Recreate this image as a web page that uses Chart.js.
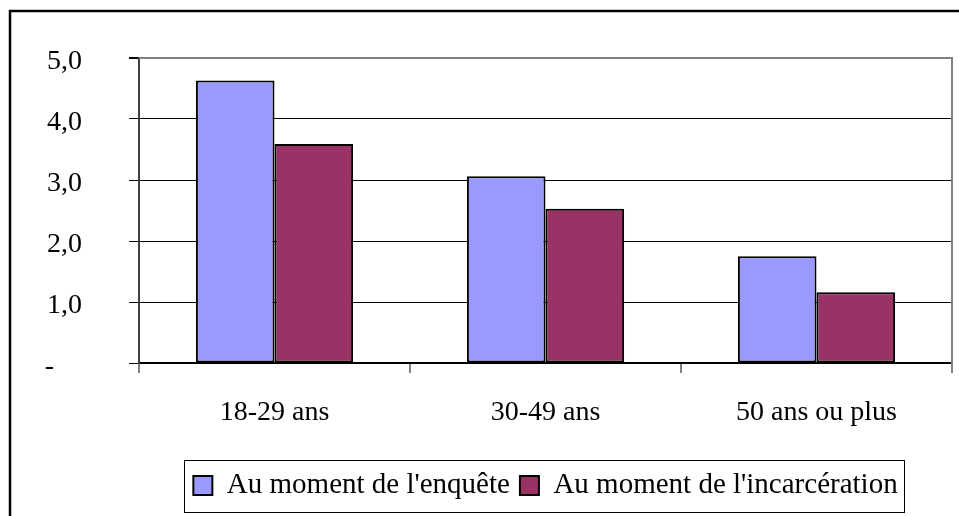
<!DOCTYPE html>
<html>
<head>
<meta charset="utf-8">
<script src="https://cdn.jsdelivr.net/npm/chart.js@4"></script>
<style>
  html, body { margin: 0; padding: 0; background: #fff; }
  #wrap { width: 959px; height: 516px; }
</style>
</head>
<body>
<div id="wrap"><canvas id="chart" width="959" height="516"></canvas></div>
<script>
const categories = ['18-29 ans', '30-49 ans', '50 ans ou plus'];
const enquete = [4.63, 3.06, 1.75];
const incarceration = [3.59, 2.53, 1.16];
const seriesNames = ["Au moment de l'enquête", "Au moment de l'incarcération"];
const yTicks = ['-\u00a0\u00a0\u00a0\u00a0', '1,0', '2,0', '3,0', '4,0', '5,0'];

const serif = 'Liberation Serif, Times New Roman, serif';

// outer frame, right plot border, box round the legend
const framePlugin = {
  id: 'frame',
  beforeDraw: (chart) => {
    const ctx = chart.ctx;
    ctx.save();
    ctx.fillStyle = '#fff';
    ctx.fillRect(0, 0, chart.width, chart.height);
    ctx.strokeStyle = '#000';
    ctx.lineWidth = 2.5;
    ctx.strokeRect(10, 11, chart.width + 20, chart.height + 20);
    ctx.restore();
  },
  afterDraw: (chart) => {
    const ctx = chart.ctx;
    const a = chart.chartArea;
    ctx.save();
    ctx.strokeStyle = '#808080';
    ctx.lineWidth = 2;
    ctx.beginPath();
    ctx.moveTo(a.left, a.top);
    ctx.lineTo(a.right, a.top);
    ctx.lineTo(a.right, a.bottom + 10);
    ctx.stroke();

    const boxes = chart.legend.legendHitBoxes;
    if (boxes && boxes.length) {
      const l = Math.min(...boxes.map(b => b.left));
      const r = Math.max(...boxes.map(b => b.left + b.width));
      const t = Math.min(...boxes.map(b => b.top));
      const b = Math.max(...boxes.map(b => b.top + b.height));
      const cy = (t + b) / 2;
      ctx.strokeStyle = '#000';
      ctx.lineWidth = 1;
      ctx.strokeRect(Math.round(l - 9) + 0.5, Math.round(cy - 26) + 0.5, Math.round(r - l + 16), 52);
    }
    ctx.restore();
  }
};

new Chart(document.getElementById('chart'), {
  type: 'bar',
  data: {
    labels: categories,
    datasets: [{
      label: seriesNames[0],
      data: enquete,
      backgroundColor: '#9999FF',
      borderColor: '#000',
      borderWidth: 2,
      borderSkipped: false
    }, {
      label: seriesNames[1],
      data: incarceration,
      backgroundColor: '#993366',
      borderColor: '#000',
      borderWidth: 2,
      borderSkipped: false
    }]
  },
  plugins: [framePlugin],
  options: {
    responsive: false,
    animation: false,
    devicePixelRatio: 1,
    layout: { padding: { left: 0, right: 7, top: 58, bottom: 6 } },
    datasets: { bar: { categoryPercentage: 0.58, barPercentage: 1.0 } },
    plugins: {
      tooltip: { enabled: false },
      legend: {
        position: 'bottom',
        fullSize: false,
        labels: {
          font: { family: serif, size: 29 },
          color: '#000',
          boxWidth: 19,
          boxHeight: 19,
          padding: 10
        }
      }
    },
    scales: {
      x: {
        afterFit: (scale) => { scale.height = 98; },
        grid: {
          offset: true,
          drawOnChartArea: false,
          tickLength: 10,
          color: '#808080',
          lineWidth: 2
        },
        border: { color: '#000', width: 1.5 },
        ticks: {
          font: { family: serif, size: 28 },
          color: '#000',
          padding: 23
        }
      },
      y: {
        min: 0,
        max: 5,
        afterFit: (scale) => {
          scale.width = 139;
          scale.paddingTop = 0;
          scale.paddingBottom = 0;
        },
        grid: {
          color: (c) => (c.tick && c.tick.value === 5 ? '#808080' : '#000'),
          lineWidth: (c) => (c.tick && c.tick.value === 5 ? 2 : 1),
          tickColor: '#000',
          tickLength: 10
        },
        border: { color: '#404040', width: 2 },
        ticks: {
          stepSize: 1,
          font: { family: serif, size: 28 },
          color: '#000',
          padding: 47,
          labelOffset: 4,
          callback: (v, i) => yTicks[i]
        }
      }
    }
  }
});
</script>
</body>
</html>
